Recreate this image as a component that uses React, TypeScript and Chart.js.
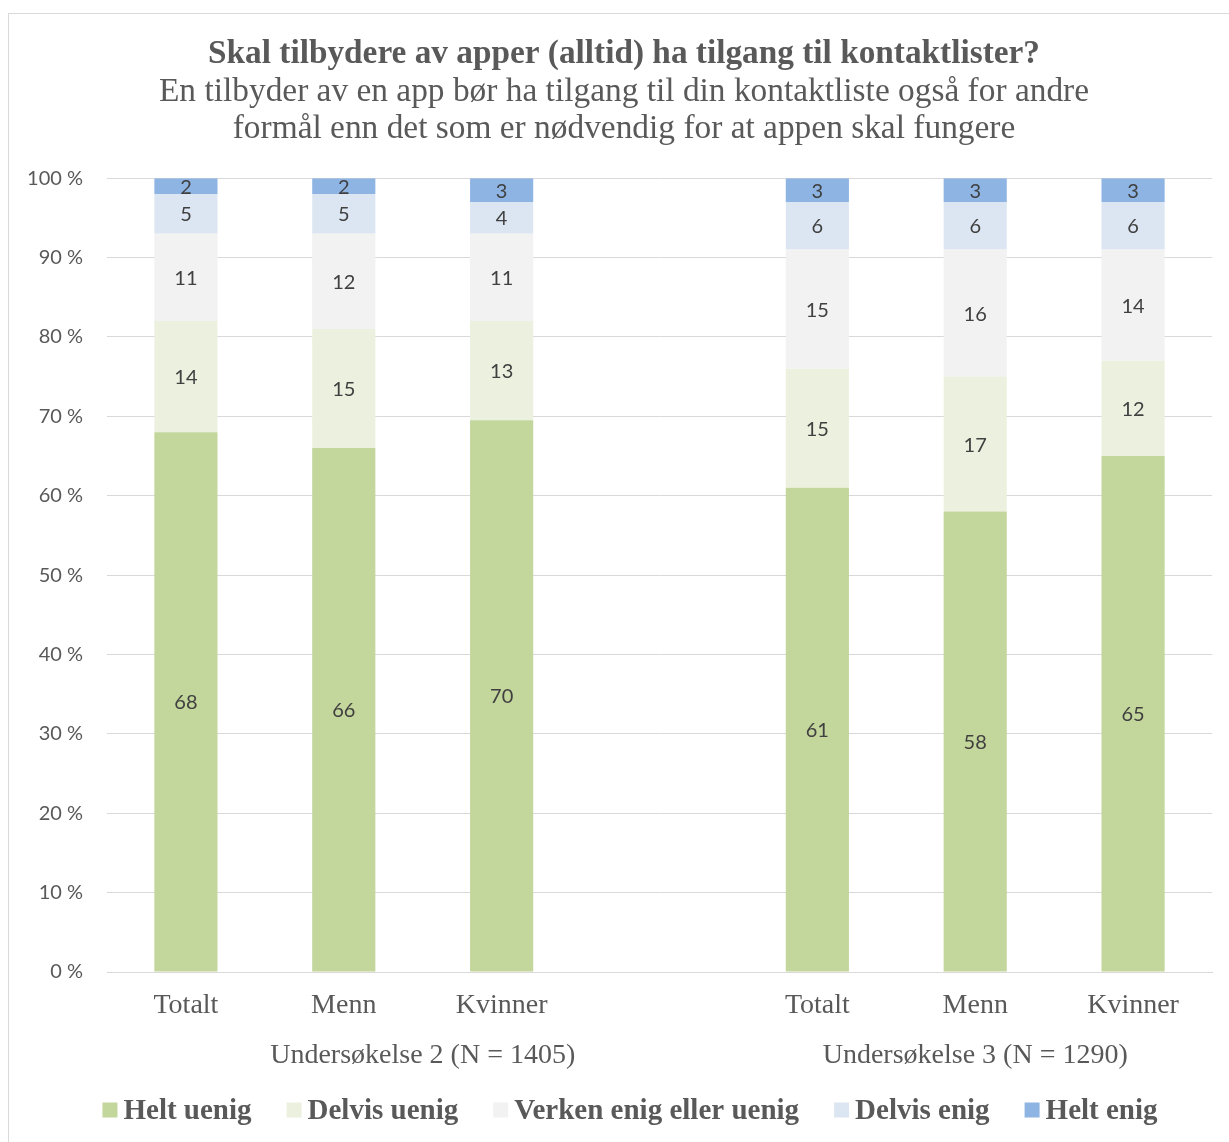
import React, { useEffect, useRef } from "react";
import { Chart, registerables } from "chart.js";

Chart.register(...registerables);

const categories = ["Totalt", "Menn", "Kvinner", "", "Totalt", "Menn", "Kvinner"];
const groupLabels = ["Undersøkelse 2 (N = 1405)", "Undersøkelse 3 (N = 1290)"];
const groupStart = [0, 4];
const groupEnd = [3, 6];

const heltUenig = [68, 66, 69.5, null, 61, 58, 65];
const delvisUenig = [14, 15, 12.5, null, 15, 17, 12];
const verken = [11, 12, 11, null, 15, 16, 14];
const delvisEnig = [5, 5, 4, null, 6, 6, 6];
const heltEnig = [2, 2, 3, null, 3, 3, 3];

const seriesNames = ["Helt uenig", "Delvis uenig", "Verken enig eller uenig", "Delvis enig", "Helt enig"];
const seriesColors = ["#C3D69B", "#EBF1DE", "#F2F2F2", "#DCE6F2", "#8DB4E2"];

const titleText = "Skal tilbydere av apper (alltid) ha tilgang til kontaktlister?";
const subtitleLines = [
  "En tilbyder av en app bør ha tilgang til din kontaktliste også for andre",
  "formål enn det som er nødvendig for at appen skal fungere",
];

const SERIF = "'Liberation Serif', 'Times New Roman', serif";
const SANS = "Lato, 'Open Sans', sans-serif";

const dataLabelsPlugin = {
  id: "segmentLabels",
  afterDatasetsDraw(chart: any) {
    const ctx = chart.ctx;
    ctx.save();
    ctx.font = `20px ${SANS}`;
    ctx.fillStyle = "#404040";
    ctx.textAlign = "center";
    ctx.textBaseline = "middle";
    chart.data.datasets.forEach((ds: any, di: number) => {
      const meta = chart.getDatasetMeta(di);
      meta.data.forEach((el: any, i: number) => {
        const v = ds.data[i];
        if (v === null || v === undefined) return;
        const y = (el.y + el.base) / 2;
        ctx.fillText(String(Math.round(v)), el.x, y + 1);
      });
    });
    ctx.restore();
  },
};

const groupLabelPlugin = {
  id: "groupLabels",
  afterDraw(chart: any) {
    const ctx = chart.ctx;
    const xs = chart.scales.x;
    ctx.save();
    ctx.font = `28px ${SERIF}`;
    ctx.fillStyle = "#595959";
    ctx.textAlign = "center";
    ctx.textBaseline = "middle";
    groupLabels.forEach((lab, g) => {
      const x = (xs.getPixelForValue(groupStart[g]) + xs.getPixelForValue(groupEnd[g])) / 2;
      ctx.fillText(lab, x, chart.chartArea.bottom + 84);
    });
    ctx.restore();
  },
};

const legendPlugin = {
  id: "customLegend",
  afterDraw(chart: any) {
    const ctx = chart.ctx;
    ctx.save();
    ctx.font = `bold 29px ${SERIF}`;
    ctx.textBaseline = "middle";
    ctx.textAlign = "left";
    const box = 15;
    const gapText = 6;
    const gapItem = 35;
    const widths = chart.data.datasets.map((ds: any) => box + gapText + ctx.measureText(ds.label).width);
    const total = widths.reduce((a: number, b: number) => a + b, 0) + gapItem * (widths.length - 1);
    let x = 621 - total / 2;
    const cy = 1097;
    chart.data.datasets.forEach((ds: any, i: number) => {
      ctx.fillStyle = ds.backgroundColor;
      ctx.fillRect(x, cy - 8.5, box, box);
      ctx.fillStyle = "#595959";
      ctx.fillText(ds.label, x + box + gapText, cy + 1);
      x += widths[i] + gapItem;
    });
    ctx.restore();
  },
};

// widen the y scale's label area leftwards so long tick labels are not clipped
const unclipYPlugin = {
  id: "unclipY",
  afterLayout(chart: any) {
    const s = chart.scales.y;
    if (s) {
      s.left = 0;
      s.width = s.right;
    }
  },
};

export default function App() {
  const ref = useRef<HTMLCanvasElement | null>(null);

  useEffect(() => {
    if (!ref.current) return;
    const seriesData = [heltUenig, delvisUenig, verken, delvisEnig, heltEnig];
    const chart = new Chart(ref.current, {
      type: "bar",
      data: {
        labels: categories,
        datasets: seriesNames.map((name, i) => ({
          label: name,
          data: seriesData[i] as any,
          backgroundColor: seriesColors[i],
          borderWidth: 0,
          categoryPercentage: 1,
          barPercentage: 0.4,
        })),
      },
      options: {
        animation: false,
        responsive: false,
        maintainAspectRatio: false,
        layout: { padding: { left: 27, right: 17, top: 0, bottom: 60 } },
        plugins: {
          legend: { display: false },
          tooltip: { enabled: false },
          title: {
            display: true,
            text: titleText,
            color: "#595959",
            font: { family: SERIF, size: 33.3, weight: "bold", lineHeight: 1.2 },
            padding: { top: 20, bottom: 0 },
          },
          subtitle: {
            display: true,
            text: subtitleLines,
            color: "#595959",
            font: { family: SERIF, size: 33.4, weight: "normal", lineHeight: 1.1 },
            padding: { top: 0, bottom: 30.7 },
          },
        },
        scales: {
          x: {
            stacked: true,
            grid: { display: false, drawTicks: false },
            border: { display: true, color: "#D9D9D9", width: 1 },
            ticks: {
              color: "#595959",
              font: { family: SERIF, size: 28 },
              padding: 17,
              maxRotation: 0,
              autoSkip: false,
            },
            afterFit: (scale: any) => {
              scale.height = 110;
            },
          },
          y: {
            stacked: true,
            min: 0,
            max: 100,
            grid: { color: "#D9D9D9", lineWidth: 1, drawTicks: false },
            border: { display: false },
            ticks: {
              stepSize: 10,
              color: "#595959",
              font: { family: SANS, size: 20 },
              padding: 24,
              callback: (v: any) => `${v} %`,
            },
            afterFit: (scale: any) => {
              scale.width = 71;
            },
          },
        },
      } as any,
      plugins: [unclipYPlugin, dataLabelsPlugin, groupLabelPlugin, legendPlugin],
    });
    return () => chart.destroy();
  }, []);

  return (
    <div
      style={{
        position: "absolute",
        left: 8,
        top: 13,
        borderTop: "1px solid #D9D9D9",
        borderLeft: "1px solid #D9D9D9",
        width: 1220,
        height: 1128,
        background: "#FFFFFF",
      }}
    >
      <canvas ref={ref} width={1220} height={1128} style={{ display: "block" }} />
    </div>
  );
}
